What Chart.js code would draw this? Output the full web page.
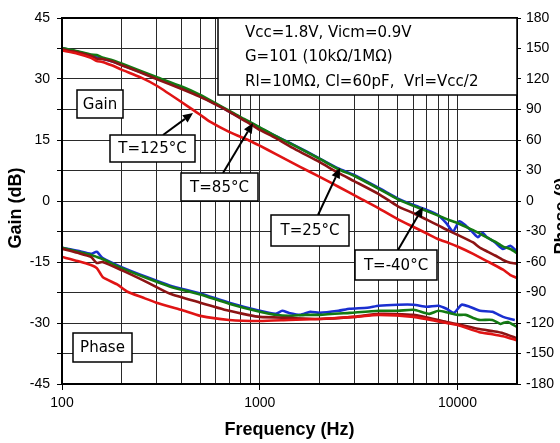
<!DOCTYPE html>
<html><head><meta charset="utf-8">
<script src="https://cdn.jsdelivr.net/npm/chart.js@4.4.1/dist/chart.umd.min.js"></script>
<style>html,body{margin:0;padding:0;background:#fff;}#wrap{width:560px;height:443px;position:relative;overflow:hidden}</style>
</head><body><div id="wrap"><canvas id="c" width="560" height="443"></canvas></div>
<script>
// ---------- data ----------
const xTickValues = [100,200,300,400,500,600,700,800,900,1000,2000,3000,4000,5000,6000,7000,8000,9000,10000,20000];
const xLabelValues = [100,1000,10000];
const seriesNames = ['T=-40°C','T=25°C','T=85°C','T=125°C'];

// Gain (dB), left axis
const gainFreqBlue = [100,120,140,150,160,180,200,250,300,400,500,600,700,800,900,1000,1200,1500,2000,2500,3000,4000,5000,6000,7000,8000,8800,9500,10200,11000,12000,12700,13400,14000,15500,17000,18500,20000];
const gainBlue     = [37.6,36.7,35.8,35.3,35.0,34.3,33.5,31.7,30.2,27.9,25.8,23.8,22.0,20.4,19.2,18.0,16.0,13.7,10.5,8.0,6.4,3.2,0.6,-1.0,-2.2,-3.5,-5.5,-7.5,-5.0,-6.0,-7.8,-8.9,-7.8,-8.8,-10.2,-11.8,-11.0,-12.4];
const gainFreq     = [100,120,140,150,160,180,200,250,300,400,500,600,700,800,900,1000,1200,1500,2000,2500,3000,4000,5000,6000,7000,8000,9000,10000,12000,13000,14000,15500,17000,18500,20000];
const gainGreen    = [37.6,36.8,36.0,35.9,35.3,34.6,33.8,32.0,30.5,28.2,26.1,24.0,22.2,20.6,19.3,18.1,16.0,13.6,10.4,7.8,6.2,3.0,0.4,-1.2,-2.5,-3.6,-4.6,-5.4,-7.2,-8.0,-8.9,-10.0,-11.2,-11.8,-12.8];
const gainDarkRed  = [37.3,36.5,35.7,35.0,34.9,34.3,33.4,31.6,30.0,27.6,25.6,23.7,22.0,20.3,18.9,17.5,15.5,12.8,9.6,6.9,4.9,1.7,-1.3,-3.0,-4.6,-6.0,-7.3,-8.3,-10.2,-11.5,-12.3,-13.4,-14.5,-15.2,-15.4];
const gainFreqRed  = [100,120,140,150,160,180,200,250,300,400,460,500,560,700,900,1000,1200,1600,2000,2500,3200,4000,5000,6000,7000,8000,9000,10000,12000,14000,17000,18500,20000];
const gainRed      = [37.0,36.2,35.2,34.4,34.2,33.3,32.3,30.4,28.4,24.4,22.4,21.2,19.5,17.0,14.7,13.6,11.6,8.4,6.0,3.5,0.7,-1.8,-4.5,-6.4,-8.0,-9.4,-10.3,-11.2,-13.0,-14.7,-16.9,-18.2,-18.9];

// Phase (degrees), right axis
const phaseFreqBlue = [100,120,140,150,160,200,270,350,500,700,1000,1200,1300,1400,1600,1800,2000,2500,2850,3500,4000,5000,6000,7000,8000,8800,9600,10500,11500,13000,15000,17000,18500,19500];
const phaseBlue     = [-46,-49,-52,-50,-56,-65,-75,-83,-91,-100,-108,-111,-108,-110,-112,-109,-110,-108,-106,-105,-103,-102,-102,-104,-103,-106,-110,-102,-104,-108,-109,-114,-116,-117];
const phaseFreqGreen = [100,120,140,150,160,200,270,350,500,700,1000,1200,1400,1700,2000,2850,4000,5000,6000,7200,8000,9000,10000,11000,12000,13000,15000,16500,17000,18000,20000];
const phaseGreen     = [-46,-50,-53,-55,-57,-66,-76,-84,-92,-101,-109,-112,-113,-112,-112,-110,-108,-108,-107,-111,-108,-110,-112,-112,-115,-117,-117,-121,-120,-119,-124];
const phaseFreqDarkRed = [100,120,140,150,160,200,270,350,500,700,870,1000,1400,2000,3000,4000,6000,8800,10000,12900,15000,17000,20000];
const phaseDarkRed     = [-47,-51,-55,-61,-60,-68,-80,-91,-100,-108,-112,-114,-115,-116,-114,-111,-112,-119,-121,-126,-128,-130,-135];
const phaseFreqRed = [100,120,140,150,161,190,213,256,300,400,500,700,1000,1400,2000,3000,4000,6000,8800,10000,12900,15000,17000,20000];
const phaseRed     = [-55,-59,-63,-66,-75,-82,-89,-95,-100,-107,-113,-117,-118,-117,-116,-114,-112,-114,-120,-122,-129,-131,-133,-137];

const colors = {blue:'#1a2fd0', green:'#137a13', darkRed:'#8c1414', red:'#e01414'};

function pts(fx, fy){ return fx.map((f,i)=>({x:f, y:fy[i]})); }
function ds(label, fx, fy, color, axis){
  return {label, data: pts(fx,fy), borderColor: color, backgroundColor: color, borderWidth: 2.6,
          pointRadius: 0, tension: 0.2, fill: false, yAxisID: axis};
}

// dataset index 0 is drawn on top
const datasets = [
  ds(seriesNames[3], gainFreqRed, gainRed, colors.red, 'y'),
  ds(seriesNames[2], gainFreq, gainDarkRed, colors.darkRed, 'y'),
  ds(seriesNames[1], gainFreq, gainGreen, colors.green, 'y'),
  ds(seriesNames[0], gainFreqBlue, gainBlue, colors.blue, 'y'),
  ds(seriesNames[3], phaseFreqRed, phaseRed, colors.red, 'y2'),
  ds(seriesNames[2], phaseFreqDarkRed, phaseDarkRed, colors.darkRed, 'y2'),
  ds(seriesNames[1], phaseFreqGreen, phaseGreen, colors.green, 'y2'),
  ds(seriesNames[0], phaseFreqBlue, phaseBlue, colors.blue, 'y2'),
];

// ---------- annotations (text boxes, arrows, titles) ----------
const infoLines = ['Vcc=1.8V, Vicm=0.9V','G=101 (10kΩ/1MΩ)','Rl=10MΩ, Cl=60pF,  Vrl=Vcc/2'];
const labelBoxes = [
  {text:'Gain',    r:[77,90,123,118]},
  {text:'Phase',   r:[73,333,132,362]},
  {text:'T=125°C', r:[110,135,195,162]},
  {text:'T=85°C',  r:[181,173,258,201]},
  {text:'T=25°C',  r:[271,215,349,246]},
  {text:'T=-40°C', r:[355,250,437,280]},
];
const arrows = [
  [163,135,193,113],
  [223,173,253,123],
  [318,215,340,168],
  [398,250,423,207],
];

const annPlugin = {
  id:'ann',
  afterDraw(chart){
    const ctx = chart.ctx, a = chart.chartArea;
    ctx.save();
    // frame
    ctx.strokeStyle='#000'; ctx.lineWidth=2;
    ctx.strokeRect(a.left, a.top, a.right-a.left, a.bottom-a.top);
    // arrows
    ctx.lineWidth=2; ctx.fillStyle='#000';
    arrows.forEach(([x1,y1,x2,y2])=>{
      const ang=Math.atan2(y2-y1,x2-x1), L=10, W=4.5;
      const bx=x2-L*Math.cos(ang), by=y2-L*Math.sin(ang);
      ctx.beginPath(); ctx.moveTo(x1,y1); ctx.lineTo(bx,by); ctx.stroke();
      ctx.beginPath(); ctx.moveTo(x2,y2);
      ctx.lineTo(bx+W*Math.sin(ang), by-W*Math.cos(ang));
      ctx.lineTo(bx-W*Math.sin(ang), by+W*Math.cos(ang));
      ctx.closePath(); ctx.fill();
    });
    // info box
    ctx.fillStyle='#fff'; ctx.strokeStyle='#000'; ctx.lineWidth=1.5;
    const ix1=218, iy1=a.top, ix2=a.right, iy2=95;
    ctx.fillRect(ix1,iy1,ix2-ix1,iy2-iy1);
    ctx.strokeRect(ix1,iy1,ix2-ix1,iy2-iy1);
    ctx.fillStyle='#000'; ctx.font='15px "DejaVu Sans"'; ctx.textBaseline='middle'; ctx.textAlign='left';
    infoLines.forEach((t,i)=>ctx.fillText(t,245,33+i*24.5));
    // label boxes
    labelBoxes.forEach(b=>{
      const [x1,y1,x2,y2]=b.r;
      ctx.fillStyle='#fff'; ctx.fillRect(x1,y1,x2-x1,y2-y1);
      ctx.strokeRect(x1,y1,x2-x1,y2-y1);
      ctx.fillStyle='#000'; ctx.textAlign='center';
      ctx.fillText(b.text,(x1+x2)/2,(y1+y2)/2+1);
    });
    // axis titles
    ctx.font='bold 18px "Liberation Sans", Arial, sans-serif';
    ctx.textAlign='center'; ctx.textBaseline='middle';
    ctx.fillText('Frequency (Hz)', (a.left+a.right)/2, 430);
    ctx.save(); ctx.translate(16, 208); ctx.rotate(-Math.PI/2); ctx.fillText('Gain (dB)',0,0); ctx.restore();
    ctx.save(); ctx.translate(562, 216); ctx.rotate(-Math.PI/2); ctx.fillText('Phase (°)',0,0); ctx.restore();
    ctx.restore();
  }
};

const tickFont = {family:'"Liberation Sans", Arial, sans-serif', size:14};
const gridCol = '#2a2a2a';

new Chart(document.getElementById('c'), {
  type:'line',
  data:{datasets},
  options:{
    responsive:false, animation:false, devicePixelRatio:1,
    layout:{padding:{top:18,left:0,right:0,bottom:0}},
    plugins:{legend:{display:false}, tooltip:{enabled:false}},
    scales:{
      x:{type:'logarithmic', min:100, max:20000, position:'bottom',
         afterBuildTicks: s=>{ s.ticks = xTickValues.map(v=>({value:v})); },
         afterFit: s=>{ s.height = 59; },
         ticks:{autoSkip:false, maxRotation:0, font:tickFont, color:'#000', padding:5,
                callback: v => xLabelValues.includes(v) ? String(v) : ''},
         grid:{color:gridCol, lineWidth:1, tickLength:6,
               tickColor: c => (c.tick && xLabelValues.includes(c.tick.value)) ? '#000' : 'rgba(0,0,0,0)'},
         border:{color:'#000', width:2}},
      y:{type:'linear', position:'left', min:-45, max:45,
         afterFit: s=>{ s.width = 62; },
         ticks:{stepSize:7.5, font:tickFont, color:'#000', padding:7,
                callback: v => (Math.abs(v % 15) < 1e-6) ? String(v) : ''},
         grid:{color:gridCol, lineWidth:1, tickLength:5, tickColor:'#000'},
         border:{color:'#000', width:2}},
      y2:{type:'linear', position:'right', min:-180, max:180,
         afterFit: s=>{ s.width = 43; },
         ticks:{stepSize:30, font:tickFont, color:'#000', padding:5},
         grid:{drawOnChartArea:false, tickLength:4, tickColor:'#000'},
         border:{color:'#000', width:2}}
    }
  },
  plugins:[annPlugin]
});
</script>
</body></html>
